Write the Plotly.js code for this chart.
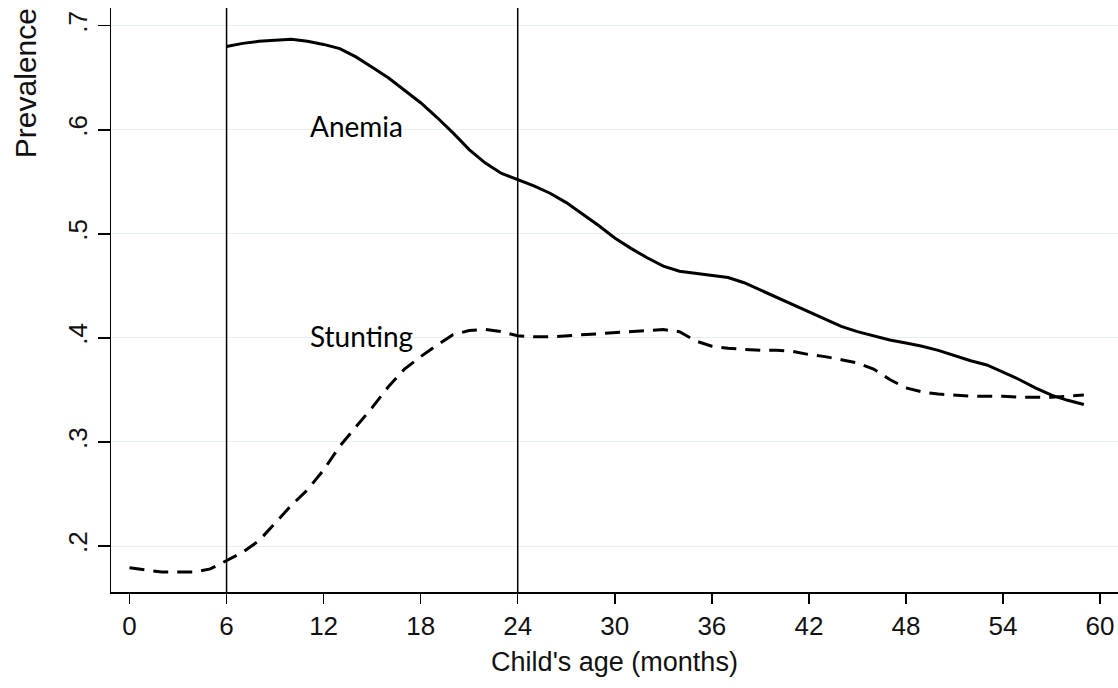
<!DOCTYPE html>
<html>
<head>
<meta charset="utf-8">
<script src="https://cdn.plot.ly/plotly-3.0.1.min.js"></script>
<style>html,body{margin:0;padding:0;background:#fff;}#chart{width:1118px;height:688px;}</style>
</head>
<body>
<div id="chart"></div>
<script>
const anemiaMonths = [6,7,8,9,10,11,12,13,14,15,16,17,18,19,20,21,22,23,24,25,26,27,28,29,30,31,32,33,34,35,36,37,38,39,40,41,42,43,44,45,46,47,48,49,50,51,52,53,54,55,56,57,58,59];
const anemiaValues = [0.680,0.683,0.685,0.686,0.687,0.685,0.682,0.678,0.670,0.660,0.650,0.638,0.626,0.612,0.597,0.581,0.568,0.558,0.552,0.546,0.539,0.530,0.519,0.508,0.496,0.486,0.477,0.469,0.464,0.462,0.460,0.458,0.453,0.446,0.439,0.432,0.425,0.418,0.411,0.406,0.402,0.398,0.395,0.392,0.388,0.383,0.378,0.374,0.367,0.360,0.352,0.345,0.340,0.336];
const stuntingMonths = [0,1,2,3,4,5,6,7,8,9,10,11,12,13,14,15,16,17,18,19,20,21,22,23,24,25,26,27,28,29,30,31,32,33,34,35,36,37,38,39,40,41,42,43,44,45,46,47,48,49,50,51,52,53,54,55,56,57,58,59];
const stuntingValues = [0.179,0.177,0.175,0.175,0.175,0.178,0.186,0.194,0.205,0.222,0.239,0.254,0.273,0.296,0.314,0.333,0.353,0.370,0.382,0.393,0.403,0.407,0.408,0.406,0.402,0.401,0.401,0.402,0.403,0.404,0.405,0.406,0.407,0.408,0.406,0.397,0.392,0.390,0.389,0.388,0.388,0.387,0.384,0.382,0.379,0.376,0.370,0.360,0.352,0.348,0.346,0.345,0.344,0.344,0.344,0.343,0.343,0.343,0.344,0.345];
const xTicks = [0,6,12,18,24,30,36,42,48,54,60];
const yTicks = [0.2,0.3,0.4,0.5,0.6,0.7];
const yTickLabels = ['.2','.3','.4','.5','.6','.7'];
const refLines = [6,24];
const labels = [{text:'Anemia', x:11.04, y:0.6036},{text:'Stunting', x:11.04, y:0.4018}];

const traces = [
  {x: anemiaMonths, y: anemiaValues, mode:'lines', line:{color:'#000', width:3}, hoverinfo:'skip'},
  {x: stuntingMonths, y: stuntingValues, mode:'lines', line:{color:'#000', width:3, dash:'15px,9px'}, hoverinfo:'skip'}
];

const layout = {
  width:1118, height:688,
  margin:{l:111, r:0, t:8, b:96},
  paper_bgcolor:'#fff', plot_bgcolor:'#fff',
  showlegend:false,
  font:{family:'"Liberation Sans", Arial, sans-serif', color:'#000'},
  xaxis:{
    range:[-1.144, 61.11], tickvals:xTicks, ticktext:xTicks.map(String),
    showgrid:false, zeroline:false, showline:true, linecolor:'#000', linewidth:1.5,
    ticks:'outside', ticklen:10, tickwidth:1.5, tickcolor:'#000',
    tickfont:{size:26, family:'"Liberation Sans", Arial, sans-serif', color:'#111'},
    title:{text:"Child's age (months)", font:{size:27, family:'"Liberation Sans", Arial, sans-serif', color:'#111'}, standoff:12}
  },
  yaxis:{
    range:[0.1558, 0.717], tickvals:yTicks, ticktext:yTickLabels, tickangle:-90,
    showgrid:true, gridcolor:'#e5eef0', gridwidth:1, zeroline:false,
    showline:true, linecolor:'#000', linewidth:1.5,
    ticks:'outside', ticklen:12, tickwidth:1.5, tickcolor:'#000',
    tickfont:{size:26, family:'"Liberation Sans", Arial, sans-serif', color:'#111'}
  },
  shapes: refLines.map(v => ({type:'line', xref:'x', yref:'paper', x0:v, x1:v, y0:0, y1:1, line:{color:'#000', width:1.5}})),
  annotations: labels.map(l => ({text:l.text, x:l.x, y:l.y, xref:'x', yref:'y', xanchor:'left', yanchor:'middle', showarrow:false, font:{family:'Lato, "Open Sans", sans-serif', size:28, color:'#000'}})).concat([
    {text:'Prevalence', xref:'paper', yref:'paper', x:-0.085, y:0.872, xanchor:'center', yanchor:'middle', textangle:-90, showarrow:false, font:{size:30, family:'"Liberation Sans", Arial, sans-serif', color:'#111'}}
  ])
};

Plotly.newPlot('chart', traces, layout, {displayModeBar:false, staticPlot:true});
</script>
</body>
</html>
